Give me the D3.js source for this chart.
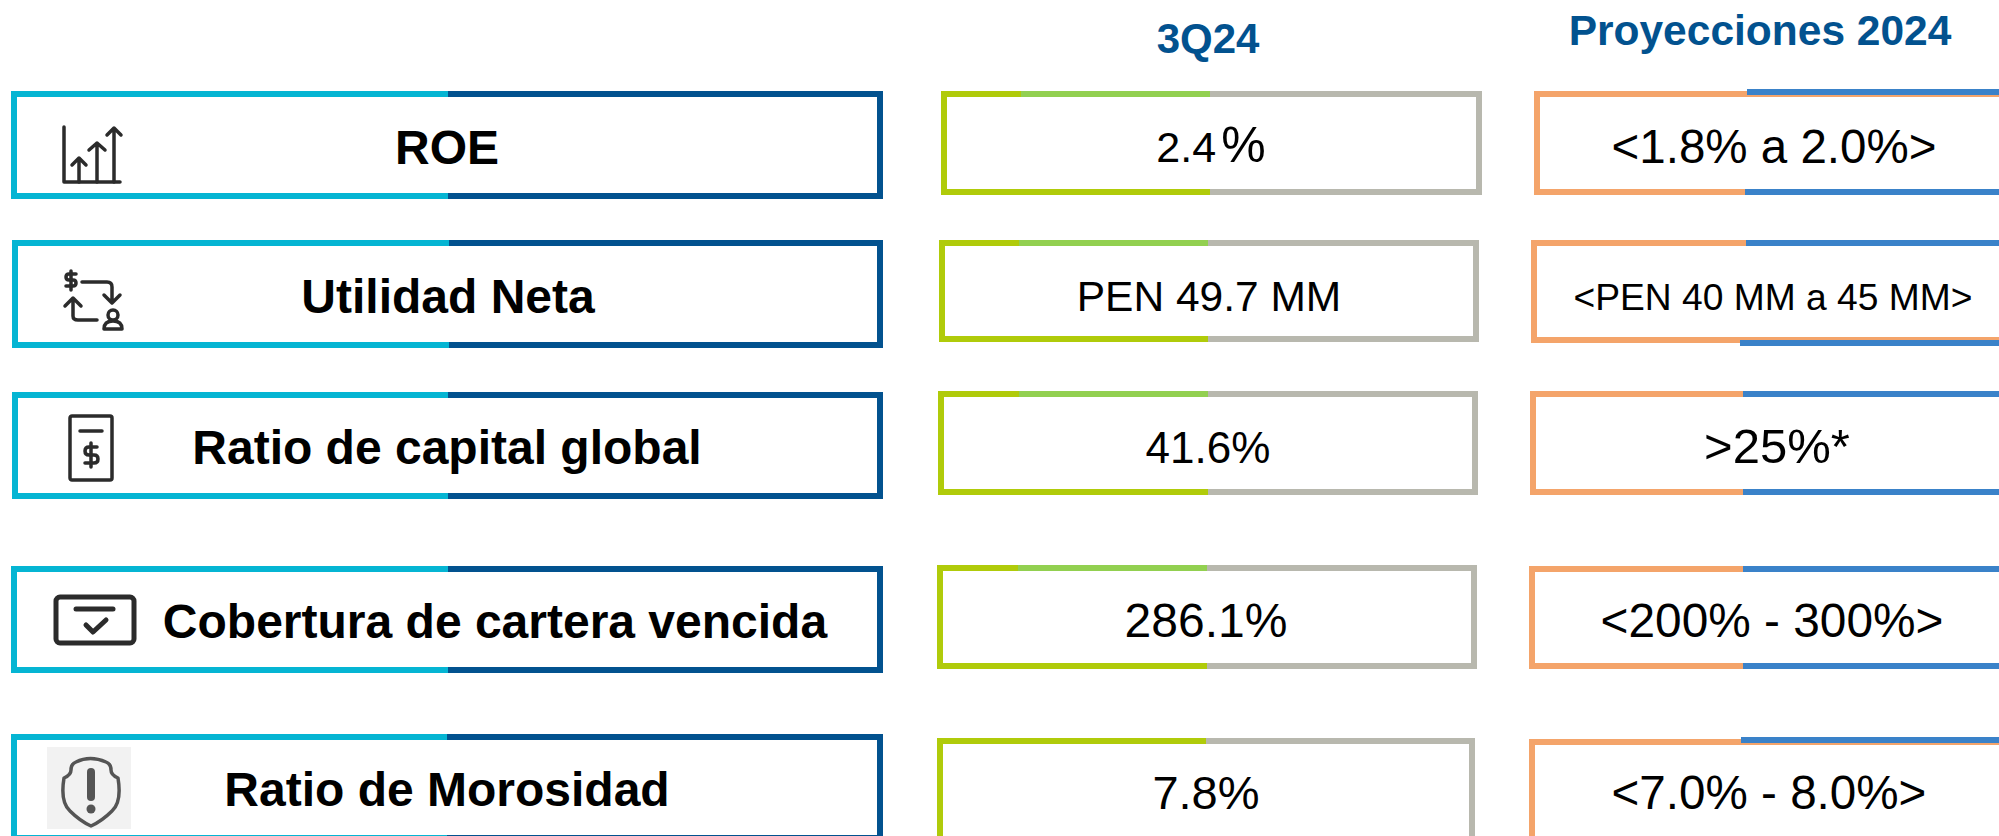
<!DOCTYPE html>
<html><head><meta charset="utf-8">
<script src="https://cdn.jsdelivr.net/npm/d3@7/dist/d3.min.js"></script>
<style>html,body{margin:0;padding:0;background:#fff;overflow:hidden}svg{display:block}text{font-family:"Liberation Sans",Arial,sans-serif;white-space:pre}</style>
</head><body><div id="c"></div>
<script>
const metrics=["ROE","Utilidad Neta","Ratio de capital global","Cobertura de cartera vencida","Ratio de Morosidad"];
const actuals=["2.4 %","PEN 49.7 MM","41.6%","286.1%","7.8%"];
const guidance=["<1.8% a 2.0%>","<PEN 40 MM a 45 MM>",">25%*","<200% - 300%>","<7.0% - 8.0%>"];
const headers=["3Q24","Proyecciones 2024"];

// layout, per row: [x0,x1,top,bottom,split top,split bottom,top shift,bottom shift]
const leftBoxes=[[14,880,94,196,448,448],[15,880,243,345,449,449],[15,880,395,496,448,448],[14,880,569,670,448,448],[14,880,737,838,447,447]];
const midBoxes=[[944,1479,94,192,1210,1210],[942,1476,243,339,1208,1208],[941,1475,394,492,1208,1208],[940,1474,568,666,1207,1207],[940,1472,741,843,1206,1206]];
const rightBoxes=[[1537,2010,94,192,1747,1745,-2,0],[1534,2010,243,340,1746,1740,0,3],[1533,2010,394,492,1743,1743,0,0],[1532,2010,569,666,1743,1743,0,0],[1532,2010,742,843,1741,1741,-2,0]];
const midLight=[1021,1019,1019,1018,null];
const W=1999,H=836,SW=6;
const svg=d3.select("#c").append("svg").attr("width",W).attr("height",H);
const px=d3.scaleIdentity();

function box(g,b,c){
  const [x0,x1,t,m,st,sb,dt=0,dm=0]=b;
  const seg=(a,y1,e,y2,col)=>g.append("line").attr("x1",px(a)).attr("y1",px(y1)).attr("x2",px(e)).attr("y2",px(y2)).attr("stroke",col).attr("stroke-width",SW);
  seg(x0,m+3,x0,t-3,c.left); seg(x0,t,st,t,c.left); seg(x0,m,sb,m,c.left);
  if(dt) seg(st,t,x1+3,t,c.left);
  if(dm) seg(sb,m,x1+3,m,c.left);
  seg(st,t+dt,x1+3,t+dt,c.right); seg(sb,m+dm,x1+3,m+dm,c.right); seg(x1,t,x1,m,c.right);
}
d3.range(5).forEach(i=>{
  box(svg.append("g"),leftBoxes[i],{left:"#05b5d3",right:"#02528f"});
  box(svg.append("g"),midBoxes[i],{left:"#b0cb0a",right:"#b8b8ae"});
  if(midLight[i]!=null) svg.append("line").attr("x1",midLight[i]).attr("x2",midBoxes[i][4]).attr("y1",midBoxes[i][2]).attr("y2",midBoxes[i][2]).attr("stroke","#92d050").attr("stroke-width",SW);
  box(svg.append("g"),rightBoxes[i],{left:"#f4a46a",right:"#3a82c9"});
});
const T=(x,y,s,size,weight,col)=>svg.append("text").attr("x",x).attr("y",y).attr("text-anchor","middle").attr("font-size",size).attr("font-weight",weight).attr("fill",col).text(s);
T(1208,53,headers[0],42,"bold","#02528f");
T(1760,45,headers[1],42.5,"bold","#02528f");
const leftX=[447,448,447,495,447], leftY=[164,313,464,638,806];
metrics.forEach((m,i)=>T(leftX[i],leftY[i],m,48,"bold","#000"));
const midY=[162,311,463,637,809], midSize=[43,42.5,44,48,47], midX=[1211,1209,1208,1206,1206];
actuals.forEach((m,i)=>{
  const t=T(midX[i],midY[i],m,midSize[i],"normal","#000");
  if(m.includes(" %")){ // the reference sets this one percent sign larger, close to the digits
    const [num]=m.split(" %");
    t.text(null);
    t.append("tspan").text(num);
    t.append("tspan").attr("font-size",18).text(" ");
    t.append("tspan").attr("font-size",50).text("%");
  }
});
const rgtY=[163,310,463,637,809], rgtSize=[47.5,37.2,49,47.8,47.6], rgtX=[1774,1773,1777,1772,1769];
guidance.forEach((m,i)=>T(rgtX[i],rgtY[i],m,rgtSize[i],"normal","#000"));

// icons
const ink="#2b2b2b";
function icon(x,y,draw){const g=svg.append("g").attr("transform",`translate(${x},${y})`).attr("fill","none").attr("stroke",ink).attr("stroke-width",3.5).attr("stroke-linecap","round").attr("stroke-linejoin","round");draw(g);return g;}
icon(62,125,g=>{
  g.append("path").attr("d","M2 2V57H58");
  g.append("path").attr("d","M17 57V33M10 40L17 33L24 40");
  g.append("path").attr("d","M35 57V18M27 25L35 18L43 25");
  g.append("path").attr("d","M52 57V3M45 10L52 3L59 10");
});
icon(63,269,g=>{
  g.append("path").attr("d","M13 5H6Q3 5 3 8T6 11H10Q13 11 13 14T10 17H3M8 2V21");
  g.append("path").attr("d","M19 13H44Q49 13 49 18V33M41 26L49 34L57 26");
  g.append("path").attr("d","M10 30V47Q10 51 15 51H34M2 37L10 29L18 37");
  g.append("circle").attr("cx",50).attr("cy",46).attr("r",5);
  g.append("path").attr("d","M41 60Q41 52 50 52Q59 52 59 60Z");
});
icon(68,414,g=>{
  g.append("rect").attr("x",2).attr("y",2).attr("width",42).attr("height",64).attr("rx",2);
  g.append("path").attr("d","M12 17H34");
  g.append("path").attr("d","M29 33H21Q17 33 17 37T21 41H26Q30 41 30 45T26 49H17M23 29V53");
});
icon(53,594,g=>{
  g.attr("stroke-width",5);
  g.append("rect").attr("x",3).attr("y",3).attr("width",78).attr("height",46).attr("rx",4);
  g.append("path").attr("d","M23 15H60");
  g.append("path").attr("d","M33 31L40 38L53 26");
});
svg.append("rect").attr("x",47).attr("y",747).attr("width",84).attr("height",82).attr("fill","#f2f2f2");
icon(62,756,g=>{
  g.attr("stroke","#555").attr("stroke-width",3.5);
  g.append("path").attr("d","M14 6Q28 -1 44 6Q49 8 49 14Q49 19 56 22Q60 46 50 55Q40 65 29 70Q18 65 8 55Q-2 46 2 22Q9 19 9 14Q9 8 14 6Z");
  g.append("path").attr("d","M29 16V41").attr("stroke-width",8);
  g.append("circle").attr("cx",29).attr("cy",53).attr("r",4.5).attr("fill","#555").attr("stroke","none");
});
</script></body></html>
